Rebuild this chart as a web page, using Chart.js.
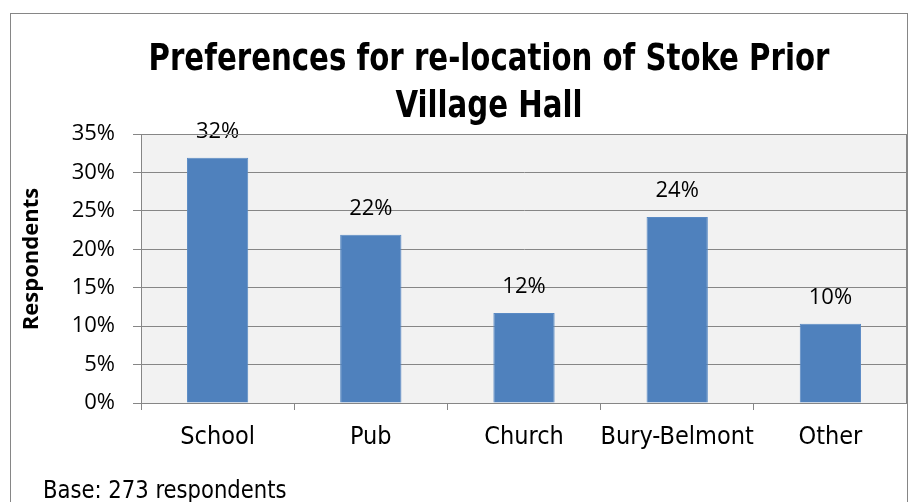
<!DOCTYPE html>
<html lang="en">
<head>
    <meta charset="UTF-8">
    <title>Preferences for re-location of Stoke Prior Village Hall</title>
    <script src="https://cdn.jsdelivr.net/npm/chart.js"></script>
    <style>
        html, body { margin: 0; padding: 0; background: #fff; }
        #wrap { width: 909px; height: 502px; }
    </style>
</head>
<body>
    <div id="wrap"><canvas id="barChart" width="909" height="502"></canvas></div>

    <script>
        // chart data
        const categories = ['School', 'Pub', 'Church', 'Bury-Belmont', 'Other'];
        const shares = [31.9, 21.9, 11.7, 24.2, 10.3];
        const yTicks = [0, 5, 10, 15, 20, 25, 30, 35];

        const titleLines = ['Preferences for re-location of Stoke Prior', 'Village Hall'];
        const footNote = 'Base: 273 respondents';
        const yTitle = 'Respondents';

        const narrow = '"Liberation Sans Narrow", "DejaVu Sans Condensed", sans-serif';
        const plain = '"Open Sans", "Noto Sans", sans-serif';
        const gridGray = '#868686';

        // the original uses a narrow face, so squeeze text sideways
        function squeezed(ctx, text, x, y, squeeze) {
            ctx.save();
            ctx.translate(x, y);
            ctx.scale(squeeze, 1);
            ctx.fillText(text, 0, 0);
            ctx.restore();
        }

        // background, frame, titles and footnote
        const framePlugin = {
            id: 'frame',
            beforeDraw(chart) {
                const ctx = chart.ctx;
                const a = chart.chartArea;
                ctx.save();
                ctx.fillStyle = '#fff';
                ctx.fillRect(0, 0, chart.width, chart.height);
                ctx.strokeStyle = gridGray;
                ctx.lineWidth = 1;
                ctx.strokeRect(10.5, 13.5, 897, 600);
                ctx.fillStyle = '#f2f2f2';
                ctx.fillRect(a.left, a.top, a.right - a.left, a.bottom - a.top);
                ctx.restore();
            },
            afterDraw(chart) {
                const ctx = chart.ctx;
                const a = chart.chartArea;
                ctx.save();
                ctx.strokeStyle = gridGray;
                ctx.lineWidth = 1;
                ctx.strokeRect(a.left + 0.5, a.top + 0.5, a.right - a.left - 1, a.bottom - a.top);

                ctx.fillStyle = '#000';
                ctx.textAlign = 'center';
                ctx.textBaseline = 'alphabetic';
                ctx.font = 'bold 38px ' + narrow;
                squeezed(ctx, titleLines[0], 489, 70, 0.855);
                squeezed(ctx, titleLines[1], 489, 117, 0.855);

                ctx.textAlign = 'left';
                ctx.font = '25px ' + narrow;
                squeezed(ctx, footNote, 43, 498, 0.94);

                ctx.save();
                ctx.translate(38, 259);
                ctx.rotate(-Math.PI / 2);
                ctx.textAlign = 'center';
                ctx.font = 'bold 22px ' + plain;
                ctx.fillText(yTitle, 0, 0);
                ctx.restore();
                ctx.restore();
            }
        };

        // value labels above the bars
        const valueLabels = {
            id: 'valueLabels',
            afterDatasetsDraw(chart) {
                const ctx = chart.ctx;
                const meta = chart.getDatasetMeta(0);
                ctx.save();
                ctx.fillStyle = '#000';
                ctx.font = '22px ' + plain;
                ctx.textAlign = 'center';
                ctx.textBaseline = 'middle';
                meta.data.forEach((bar, i) => {
                    ctx.fillText(Math.round(shares[i]) + '%', bar.x, bar.y - 26);
                });
                ctx.restore();
            }
        };

        new Chart(document.getElementById('barChart'), {
            type: 'bar',
            data: {
                labels: categories,
                datasets: [{
                    data: shares,
                    backgroundColor: '#4f81bd',
                    borderColor: '#5a8ac4',
                    borderWidth: 1,
                    categoryPercentage: 1,
                    barPercentage: 0.4
                }]
            },
            options: {
                responsive: false,
                animation: false,
                layout: { padding: { left: 10, right: 2, top: 134, bottom: 39 } },
                plugins: {
                    legend: { display: false },
                    title: { display: false },
                    tooltip: { enabled: false }
                },
                scales: {
                    x: {
                        offset: true,
                        grid: {
                            offset: true,
                            drawOnChartArea: false,
                            drawTicks: true,
                            tickLength: 7,
                            color: gridGray
                        },
                        border: { color: gridGray },
                        ticks: {
                            color: '#000',
                            padding: 12,
                            font: { family: narrow, size: 25 },
                            maxRotation: 0,
                            autoSkip: false
                        },
                        afterFit(scale) { scale.height = 60; }
                    },
                    y: {
                        min: 0,
                        max: 35,
                        afterBuildTicks(scale) { scale.ticks = yTicks.map(v => ({ value: v })); },
                        grid: { color: gridGray, tickLength: 8 },
                        border: { color: gridGray },
                        ticks: {
                            color: '#000',
                            padding: 18,
                            font: { family: plain, size: 22 },
                            callback: v => v + '%'
                        },
                        afterFit(scale) { scale.width = 131; }
                    }
                }
            },
            plugins: [framePlugin, valueLabels]
        });
    </script>
</body>
</html>
